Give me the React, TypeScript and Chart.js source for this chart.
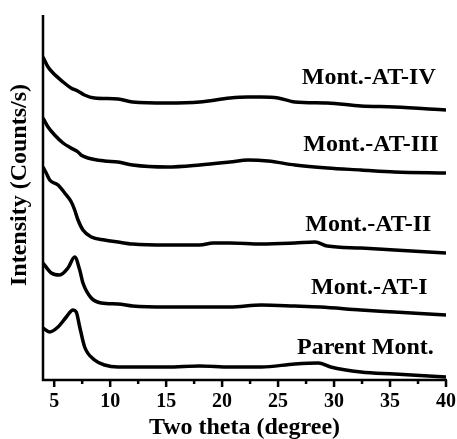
import React, { useEffect, useRef } from "react";
import { Chart, registerables } from "chart.js";

Chart.register(...registerables);

// ---- data (Two theta in degrees, intensity in arbitrary units with stacking offsets) ----
const thetaIV = [4.0, 4.45, 4.9, 5.8, 6.5, 7.1, 7.7, 8.6, 10.7, 12.0, 15.1, 18.0, 20.7, 22.3, 23.5, 25.0, 26.5, 29.4, 32.4, 35.4, 40.0];
const intensityIV = [323, 313, 307, 298, 292, 289, 285, 282, 281, 278, 277, 278, 282, 283, 283, 282, 278, 277, 274, 273, 270];

const thetaIII = [4.0, 4.45, 5.04, 5.79, 6.5, 7.13, 7.39, 8.02, 9.5, 10.7, 12.0, 15.1, 18.0, 20.7, 22.3, 24.1, 26.5, 29.4, 32.4, 35.4, 40.0];
const intensityIII = [262, 253, 245, 237, 232, 228, 225, 222, 219, 218, 215, 213, 215, 218, 220, 219, 215, 212, 210, 208, 207];

const thetaII = [4.0, 4.29, 4.6, 5.34, 5.94, 6.53, 6.83, 7.13, 7.57, 8.31, 9.5, 10.7, 12.0, 15.1, 18.0, 19.2, 20.7, 23.5, 26.5, 28.3, 29.4, 32.4, 35.4, 40.0];
const intensityII = [213, 207, 200, 195, 187, 178, 170, 160, 150, 143, 140, 138, 136, 135, 135, 137, 137, 136, 137, 138, 134, 132, 130, 127];

const thetaI = [4.0, 4.74, 5.49, 6.23, 6.83, 7.28, 7.57, 8.31, 9.2, 10.7, 12.0, 15.1, 18.0, 20.7, 23.5, 26.5, 28.8, 32.4, 35.4, 40.0];
const intensityI = [117, 107, 105, 112, 123, 110, 97, 82, 77, 76, 74, 73, 73, 73, 75, 74, 73, 70, 68, 65];

const thetaParent = [4.0, 4.6, 5.34, 6.08, 6.68, 6.97, 7.28, 7.72, 8.61, 9.5, 10.7, 12.0, 15.1, 18.0, 20.7, 23.5, 26.5, 28.6, 29.7, 32.4, 35.4, 40.0];
const intensityParent = [52, 48, 53, 63, 70, 68, 53, 33, 20, 15, 13, 13, 13, 14, 13, 13, 16, 17, 13, 8, 6, 3];

const seriesNames = ["Mont.-AT-IV", "Mont.-AT-III", "Mont.-AT-II", "Mont.-AT-I", "Parent Mont."];
const labelTheta = [33.1, 33.3, 33.06, 33.15, 32.8];
const labelIntensity = [302, 235, 155, 92, 32];

const xMajorTicks = [5, 10, 15, 20, 25, 30, 35, 40];
const xTickLabels = ["5", "10", "15", "20", "25", "30", "35", "40"];
const xMinorTicks = [7.5, 12.5, 17.5, 22.5, 27.5, 32.5, 37.5];
const xTitle = "Two theta (degree)";
const yTitle = "Intensity (Counts/s)";

const FONT = '"Liberation Serif", "Times New Roman", serif';

const seriesTheta = [thetaIV, thetaIII, thetaII, thetaI, thetaParent];
const seriesIntensity = [intensityIV, intensityIII, intensityII, intensityI, intensityParent];

const decorPlugin = {
  id: "decor",
  afterDraw(chart: any) {
    const { ctx, chartArea, scales } = chart;
    const xs = scales.x;
    const ys = scales.y;
    ctx.save();
    ctx.strokeStyle = "#000";
    ctx.fillStyle = "#000";
    ctx.lineWidth = 2.5;
    ctx.lineCap = "butt";
    // axes
    ctx.beginPath();
    ctx.moveTo(chartArea.left, chartArea.top);
    ctx.lineTo(chartArea.left, chartArea.bottom + 1.25);
    ctx.moveTo(chartArea.left - 1.25, chartArea.bottom);
    ctx.lineTo(chartArea.right + 1, chartArea.bottom);
    ctx.stroke();
    // ticks
    ctx.beginPath();
    xMajorTicks.forEach((v) => {
      const px = xs.getPixelForValue(v);
      ctx.moveTo(px, chartArea.bottom);
      ctx.lineTo(px, chartArea.bottom + 7);
    });
    xMinorTicks.forEach((v) => {
      const px = xs.getPixelForValue(v);
      ctx.moveTo(px, chartArea.bottom);
      ctx.lineTo(px, chartArea.bottom + 4);
    });
    ctx.stroke();
    ctx.textAlign = "center";
    ctx.textBaseline = "middle";
    // tick labels
    ctx.font = `bold 20px ${FONT}`;
    xMajorTicks.forEach((v, i) => {
      ctx.fillText(xTickLabels[i], xs.getPixelForValue(v), chartArea.bottom + 22);
    });
    // x title
    ctx.font = `bold 24px ${FONT}`;
    ctx.fillText(xTitle, (chartArea.left + chartArea.right) / 2, chartArea.bottom + 48);
    // y title
    ctx.save();
    ctx.translate(20, 185);
    ctx.rotate(-Math.PI / 2);
    ctx.fillText(yTitle, 0, 0);
    ctx.restore();
    // series labels
    ctx.font = `bold 24px ${FONT}`;
    seriesNames.forEach((name, i) => {
      ctx.fillText(name, xs.getPixelForValue(labelTheta[i]), ys.getPixelForValue(labelIntensity[i]));
    });
    ctx.restore();
  },
};

export default function App() {
  const canvasRef = useRef<HTMLCanvasElement | null>(null);

  useEffect(() => {
    if (!canvasRef.current) return;
    const chart = new Chart(canvasRef.current, {
      type: "line",
      data: {
        datasets: seriesNames.map((name, i) => ({
          label: name,
          data: seriesTheta[i].map((t, j) => ({ x: t, y: seriesIntensity[i][j] })),
          borderColor: "#000",
          backgroundColor: "#000",
          borderWidth: 3.5,
          pointRadius: 0,
          cubicInterpolationMode: "monotone",
          fill: false,
        })),
      },
      options: {
        responsive: false,
        animation: false,
        layout: { padding: { left: 43, right: 11, top: 15, bottom: 59 } },
        plugins: { legend: { display: false }, tooltip: { enabled: false } },
        scales: {
          x: {
            type: "linear",
            display: false,
            min: 4,
            max: 40,
          },
          y: {
            display: false,
            min: 0,
            max: 365,
          },
        },
      },
      plugins: [decorPlugin],
    } as any);
    return () => chart.destroy();
  }, []);

  return (
    <div style={{ position: "fixed", left: 0, top: 0, width: 457, height: 439, background: "#fff" }}>
      <canvas ref={canvasRef} width={457} height={439} style={{ display: "block" }} />
    </div>
  );
}
